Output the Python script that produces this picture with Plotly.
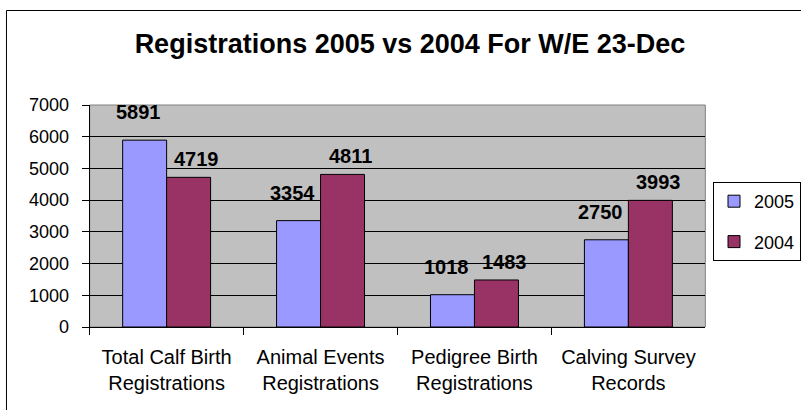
import plotly.graph_objects as go

categories = ["Total Calf Birth<br>Registrations", "Animal Events<br>Registrations",
              "Pedigree Birth<br>Registrations", "Calving Survey<br>Records"]
series_names = ["2005", "2004"]
values_2005 = [5891, 3354, 1018, 2750]
values_2004 = [4719, 4811, 1483, 3993]
y_ticks = [0, 1000, 2000, 3000, 4000, 5000, 6000, 7000]

W, H = 801, 410
FONT = "Arial, Liberation Sans, sans-serif"
colors = ["#9999FF", "#993366"]
label_xshift = [-28, 30]   # per-series label placement (style)
label_yshift = [15, 5]


def px_x(v):
    return v / W


def px_y(v):
    return 1 - v / H


fig = go.Figure()
for name, vals, col in zip(series_names, [values_2005, values_2004], colors):
    fig.add_trace(go.Bar(
        x=categories, y=vals, name=name, legendgroup=name,
        marker=dict(color=col, line=dict(color="black", width=1)),
        hoverinfo="skip",
    ))

# data labels
annotations = []
for vals, sx, sy in zip([values_2005, values_2004], label_xshift, label_yshift):
    for c, v in zip(categories, vals):
        annotations.append(dict(
            x=c, y=v, xref="x", yref="y", text=f"<b>{v}</b>", showarrow=False,
            xshift=sx, yshift=sy, yanchor="bottom",
            font=dict(family=FONT, size=20, color="black")))

fig.update_layout(
    width=W, height=H, autosize=False,
    margin=dict(l=0, r=0, t=0, b=0),
    paper_bgcolor="white", plot_bgcolor="#C0C0C0",
    font=dict(family=FONT, size=18, color="black"),
    title=dict(text="Registrations 2005 vs 2004 For W/E 23-Dec",
               x=px_x(410), xanchor="center", y=px_y(44), yanchor="middle",
               font=dict(family=FONT, size=27, color="black", weight="bold")),
    bargap=0.4286, bargroupgap=0,
    barmode="group",
    xaxis=dict(domain=[px_x(90), px_x(708)], type="category", showline=True,
               linecolor="black", linewidth=1, ticks="outside",
               tickson="boundaries", ticklen=7, tickcolor="black",
               showgrid=False, tickfont=dict(size=20), ticklabelstandoff=12,
               fixedrange=True, automargin=False),
    yaxis=dict(domain=[px_y(327), px_y(105)], range=[0, 7000], tickvals=y_ticks,
               showline=True, linecolor="black", linewidth=1, ticks="outside",
               ticklen=7, tickcolor="black", showgrid=True, gridcolor="black",
               gridwidth=1, zeroline=False, tickfont=dict(size=18),
               ticklabelstandoff=9, automargin=False, fixedrange=True),
    legend=dict(x=px_x(716), xanchor="left", y=px_y(182), yanchor="top",
                bordercolor="black", borderwidth=1, bgcolor="white",
                font=dict(size=18), tracegroupgap=14, itemwidth=30),
    annotations=annotations,
    shapes=[
        dict(type="rect", xref="x domain", yref="y domain", x0=0, x1=1, y0=0, y1=1,
             line=dict(color="#808080", width=1), layer="below"),
        dict(type="rect", xref="paper", yref="paper", x0=px_x(6.5), x1=1.05,
             y0=-0.05, y1=px_y(10.5), line=dict(color="black", width=1)),
    ],
)

fig.write_html(
    "out.html",
    config={"displayModeBar": False},
    post_script="document.body.style.margin='0';document.body.style.overflow='hidden';",
)
